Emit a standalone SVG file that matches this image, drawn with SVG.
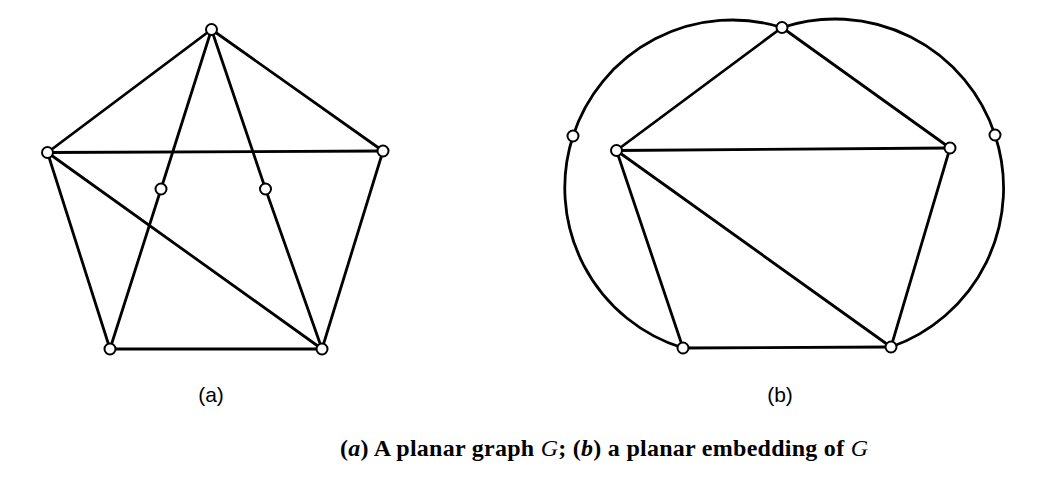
<svg xmlns="http://www.w3.org/2000/svg" width="1048" height="486" viewBox="0 0 1048 486">
<style>
.e{stroke:#000;stroke-width:2.8;fill:none;stroke-linecap:round}
.v{fill:#fff;stroke:#000;stroke-width:2}
.lab{font-family:"Liberation Sans",Arial,sans-serif;font-size:21px;fill:#000}
.cap{font-family:"Liberation Serif","Times New Roman",serif;font-size:24px;font-weight:bold;fill:#000}
</style>
<rect width="1048" height="486" fill="#fff"/>
<g id="connectors">
<line class="e" x1="211.5" y1="29.5" x2="47.5" y2="152.5"/>
<line class="e" x1="211.5" y1="29.5" x2="383" y2="151"/>
<line class="e" x1="47.5" y1="152.5" x2="383" y2="151"/>
<line class="e" x1="47.5" y1="152.5" x2="110" y2="349"/>
<line class="e" x1="383" y1="151" x2="322" y2="349"/>
<line class="e" x1="110" y1="349" x2="322" y2="349"/>
<line class="e" x1="47.5" y1="152.5" x2="322" y2="349"/>
<line class="e" x1="211.5" y1="29.5" x2="161" y2="189"/>
<line class="e" x1="161" y1="189" x2="110" y2="349"/>
<line class="e" x1="211.5" y1="29.5" x2="265.5" y2="189"/>
<line class="e" x1="265.5" y1="189" x2="322" y2="349"/>
<line class="e" x1="616.5" y1="150.5" x2="782" y2="27.5"/>
<line class="e" x1="782" y1="27.5" x2="950" y2="148"/>
<line class="e" x1="616.5" y1="150.5" x2="950" y2="148"/>
<line class="e" x1="616.5" y1="150.5" x2="683" y2="348"/>
<line class="e" x1="683" y1="348" x2="891" y2="347"/>
<line class="e" x1="950" y1="148" x2="891" y2="347"/>
<line class="e" x1="616.5" y1="150.5" x2="891" y2="347"/>
<path class="e" d="M782,27.5 A167.6,167.6 0 0 0 573,136 A167.6,167.6 0 0 0 683,348"/>
<path class="e" d="M782,27.5 A168.5,168.5 0 0 1 995,135 A168.5,168.5 0 0 1 891,347"/>
</g>
<g id="nodes">
<g id="a1"><circle class="v" cx="211.5" cy="29.5" r="5.5"/></g>
<g id="a2"><circle class="v" cx="47.5" cy="152.5" r="5.5"/></g>
<g id="a3"><circle class="v" cx="383" cy="151" r="5.5"/></g>
<g id="a4"><circle class="v" cx="110" cy="349" r="5.5"/></g>
<g id="a5"><circle class="v" cx="322" cy="349" r="5.5"/></g>
<g id="a6"><circle class="v" cx="161" cy="189" r="5.5"/></g>
<g id="a7"><circle class="v" cx="265.5" cy="189" r="5.5"/></g>
<g id="b1"><circle class="v" cx="782" cy="27.5" r="5.5"/></g>
<g id="b2"><circle class="v" cx="616.5" cy="150.5" r="5.5"/></g>
<g id="b3"><circle class="v" cx="950" cy="148" r="5.5"/></g>
<g id="b4"><circle class="v" cx="683" cy="348" r="5.5"/></g>
<g id="b5"><circle class="v" cx="891" cy="347" r="5.5"/></g>
<g id="b6"><circle class="v" cx="573" cy="136" r="5.5"/></g>
<g id="b7"><circle class="v" cx="995" cy="135" r="5.5"/></g>
</g>
<g id="labels">
<text class="lab" x="211" y="402" text-anchor="middle">(a)</text>
<text class="lab" x="780" y="402" text-anchor="middle">(b)</text>
<text class="cap" x="340" y="456" textLength="528" lengthAdjust="spacing">(<tspan font-style="italic">a</tspan>) A planar graph <tspan font-style="italic" font-weight="normal">G</tspan>; (<tspan font-style="italic">b</tspan>) a planar embedding of <tspan font-style="italic" font-weight="normal">G</tspan></text>
</g>
</svg>
